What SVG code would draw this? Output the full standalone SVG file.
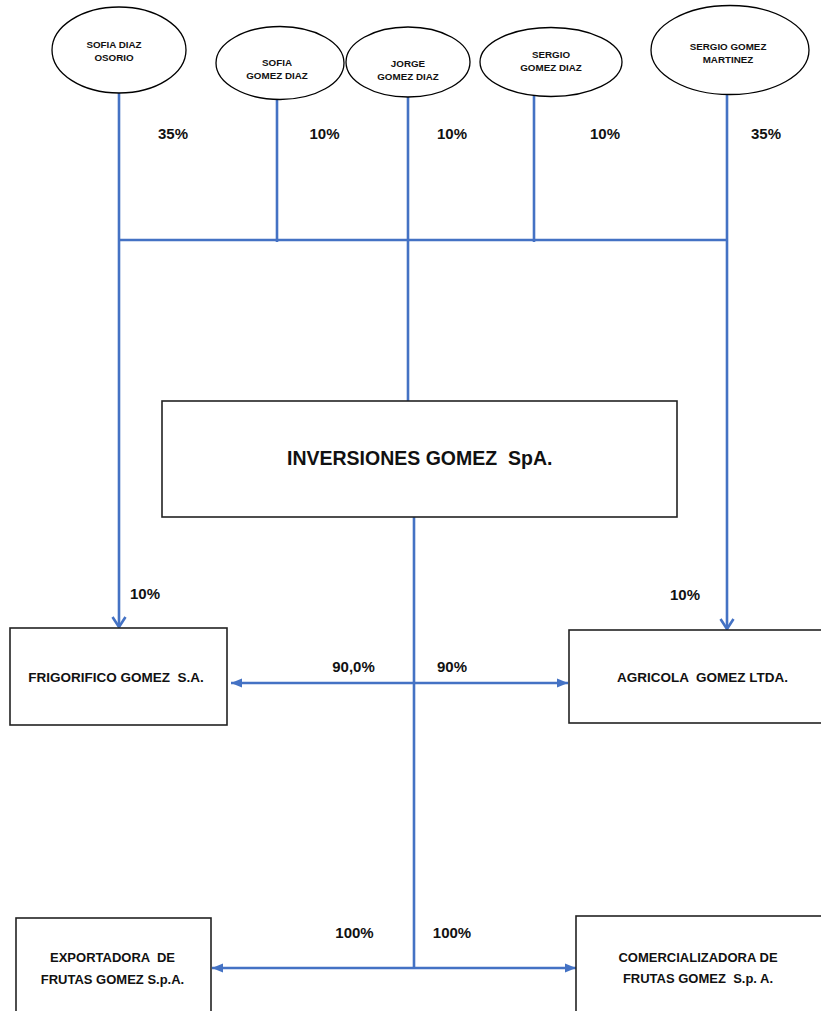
<svg xmlns="http://www.w3.org/2000/svg" width="821" height="1011" viewBox="0 0 821 1011">
<style>
  text { font-family: "Liberation Sans", Arial, sans-serif; font-weight: bold; fill: #111; white-space: pre; }
  .owner { font-size: 9.8px; text-anchor: middle; }
  .pct { font-size: 15px; text-anchor: middle; }
  .box { font-size: 13.5px; text-anchor: middle; }
  .big { font-size: 19.5px; }
  .ell { fill: #fff; stroke: #000; stroke-width: 1.3; }
  .rect { fill: #fff; stroke: #222; stroke-width: 1.6; }
  .conn { stroke: #4472C4; stroke-width: 2.6; fill: none; }
</style>
<defs>
  <marker id="chev" markerUnits="userSpaceOnUse" markerWidth="14" markerHeight="16" viewBox="0 0 14 16" refX="12" refY="8" orient="auto">
    <path d="M2,1.5 L12,8 L2,14.5" fill="none" stroke="#4472C4" stroke-width="2.6"/>
  </marker>
  <marker id="tri" markerUnits="userSpaceOnUse" markerWidth="12" markerHeight="12" viewBox="0 0 12 12" refX="11" refY="6" orient="auto-start-reverse">
    <path d="M0,1.5 L11,6 L0,10.5 z" fill="#4472C4"/>
  </marker>
</defs>

<g id="connectors">
  <line class="conn" x1="119" y1="93" x2="119" y2="627" marker-end="url(#chev)"/>
  <line class="conn" x1="277" y1="99" x2="277" y2="242"/>
  <line class="conn" x1="408" y1="97" x2="408" y2="401"/>
  <line class="conn" x1="534" y1="96" x2="534" y2="242"/>
  <line class="conn" x1="727" y1="94" x2="727" y2="629" marker-end="url(#chev)"/>
  <line class="conn" x1="118" y1="240" x2="728" y2="240"/>
  <line class="conn" x1="414" y1="517" x2="414" y2="968"/>
  <line class="conn" x1="231" y1="683" x2="568" y2="683" marker-start="url(#tri)" marker-end="url(#tri)"/>
  <line class="conn" x1="212" y1="968" x2="576" y2="968" marker-start="url(#tri)" marker-end="url(#tri)"/>
</g>

<g id="labels">
  <text class="pct" x="173" y="139">35%</text>
  <text class="pct" x="324.5" y="139">10%</text>
  <text class="pct" x="452" y="139">10%</text>
  <text class="pct" x="605" y="139">10%</text>
  <text class="pct" x="766" y="139">35%</text>
  <text class="pct" x="145" y="599">10%</text>
  <text class="pct" x="685" y="600">10%</text>
  <text class="pct" x="353.5" y="672">90,0%</text>
  <text class="pct" x="452" y="672">90%</text>
  <text class="pct" x="354.5" y="938">100%</text>
  <text class="pct" x="452" y="938">100%</text>
</g>

<g id="sofia-diaz-osorio">
  <ellipse class="ell" cx="119" cy="50" rx="67" ry="43"/>
  <text class="owner" x="114" y="48">SOFIA DIAZ</text>
  <text class="owner" x="114" y="61">OSORIO</text>
</g>
<g id="sofia-gomez-diaz">
  <ellipse class="ell" cx="280" cy="63" rx="64" ry="36.5"/>
  <text class="owner" x="277" y="66">SOFIA</text>
  <text class="owner" x="277" y="79">GOMEZ DIAZ</text>
</g>
<g id="jorge-gomez-diaz">
  <ellipse class="ell" cx="408" cy="62" rx="62" ry="35"/>
  <text class="owner" x="408" y="67">JORGE</text>
  <text class="owner" x="408" y="80">GOMEZ DIAZ</text>
</g>
<g id="sergio-gomez-diaz">
  <ellipse class="ell" cx="551" cy="62" rx="71" ry="34.5"/>
  <text class="owner" x="551" y="58">SERGIO</text>
  <text class="owner" x="551" y="71">GOMEZ DIAZ</text>
</g>
<g id="sergio-gomez-martinez">
  <ellipse class="ell" cx="730" cy="50" rx="79" ry="44.5"/>
  <text class="owner" x="728" y="50">SERGIO GOMEZ</text>
  <text class="owner" x="728" y="63">MARTINEZ</text>
</g>

<g id="inversiones-gomez">
  <rect class="rect" x="162" y="401" width="515" height="116"/>
  <text class="big" x="287" y="465">INVERSIONES GOMEZ  SpA.</text>
</g>
<g id="frigorifico-gomez">
  <rect class="rect" x="10" y="628" width="217" height="97"/>
  <text class="box" x="116" y="682">FRIGORIFICO GOMEZ  S.A.</text>
</g>
<g id="agricola-gomez">
  <rect class="rect" x="569" y="630" width="270" height="93"/>
  <text class="box" x="702.5" y="682">AGRICOLA  GOMEZ LTDA.</text>
</g>
<g id="exportadora-frutas-gomez">
  <rect class="rect" x="16" y="918" width="195" height="110"/>
  <text class="box" x="112.5" y="962" style="font-size:13px">EXPORTADORA  DE</text>
  <text class="box" x="112.5" y="984" style="font-size:13px">FRUTAS GOMEZ S.p.A.</text>
</g>
<g id="comercializadora-frutas-gomez">
  <rect class="rect" x="576" y="916" width="260" height="110"/>
  <text class="box" x="698" y="962" style="font-size:13px">COMERCIALIZADORA DE</text>
  <text class="box" x="698" y="983" style="font-size:13px">FRUTAS GOMEZ  S.p. A.</text>
</g>
</svg>
